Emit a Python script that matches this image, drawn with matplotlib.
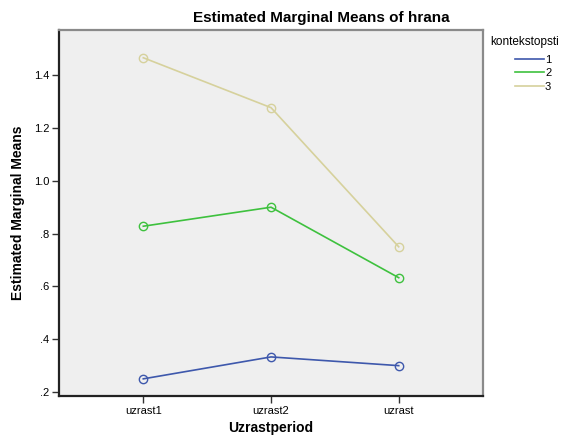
import matplotlib
matplotlib.use("Agg")
import matplotlib.pyplot as plt
from matplotlib.lines import Line2D

periods = ["uzrast1", "uzrast2", "uzrast"]
groups = ["1", "2", "3"]
means_1 = [0.250, 0.333, 0.300]
means_2 = [0.828, 0.900, 0.633]
means_3 = [1.466, 1.277, 0.750]
colors = ["#3e58ac", "#3ec13e", "#d6d19c"]
yticks = [0.2, 0.4, 0.6, 0.8, 1.0, 1.2, 1.4]
ytick_labels = [".2", ".4", ".6", ".8", "1.0", "1.2", "1.4"]

plt.rcParams['font.family'] = ['Liberation Sans', 'DejaVu Sans']

fig = plt.figure(figsize=(5.74, 4.37), dpi=100)
ax = fig.add_axes([0.1028, 0.0938, 0.7387, 0.8375])
ax.set_facecolor("#efefef")

x = range(len(periods))
for vals, col, lab in zip([means_1, means_2, means_3], colors, groups):
    ax.plot(x, vals, color=col, lw=1.2, marker='o', ms=6, mfc='none',
            mec=col, mew=1.0, label=lab)

ax.set_xlim(-0.66, 2.66)
ax.set_ylim(0.185, 1.571)
ax.set_xticks(list(x))
ax.set_xticklabels(periods, fontsize=8)
ax.set_yticks(yticks)
ax.set_yticklabels(ytick_labels, fontsize=8)
ax.tick_params(length=5, width=1, color="#333333", pad=2)

for s in ["left", "bottom"]:
    ax.spines[s].set_color("#222222")
    ax.spines[s].set_linewidth(1.6)
for s in ["top", "right"]:
    ax.spines[s].set_color("#8a8a8a")
    ax.spines[s].set_linewidth(1.6)

ax.set_xlabel("Uzrastperiod", fontsize=10, fontweight='bold', labelpad=4)
ax.set_ylabel("Estimated Marginal Means", fontsize=10, fontweight='bold', labelpad=6)
fig.text(0.559, 0.958, "Estimated Marginal Means of hrana", fontsize=11,
         fontweight='bold', ha='center', va='center')

# legend title on its own, entries indented below it
fig.text(490 / 574, 1 - 42 / 437, "kontekstopsti", fontsize=8.5, ha='left', va='center')
handles = [Line2D([], [], color=c, lw=1.2) for c in colors]
leg = ax.legend(handles, groups, loc='upper left', bbox_to_anchor=(515 / 574, 1 - 55 / 437),
                bbox_transform=fig.transFigure, frameon=False, fontsize=8,
                handlelength=2.6, labelspacing=0.3, handletextpad=0.1,
                borderaxespad=0, borderpad=0)

fig.savefig("out.png", dpi=100)
